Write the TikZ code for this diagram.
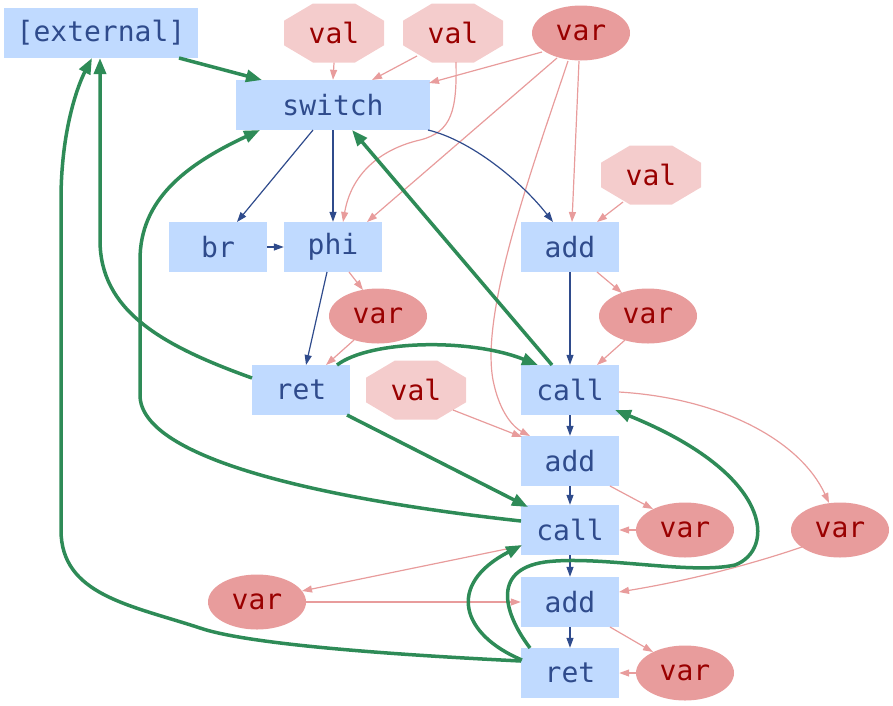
\documentclass[tikz,border=0pt]{standalone}
\usepackage{fontspec}
\setmonofont{DejaVu Sans Mono}
\usetikzlibrary{arrows.meta,shapes.geometric}
\definecolor{opfill}{HTML}{C0DAFF}
\definecolor{optext}{HTML}{2F4B8C}
\definecolor{valfill}{HTML}{F4CCCC}
\definecolor{varfill}{HTML}{E89C9C}
\definecolor{datatext}{HTML}{990000}
\definecolor{flowgreen}{HTML}{2E8B57}
\definecolor{flowblue}{HTML}{2F4B8C}
\definecolor{dataline}{HTML}{E89C9C}

\begin{document}
\begin{tikzpicture}[x=1pt,y=-1pt,
  every node/.style={font=\ttfamily\fontsize{28}{31}\selectfont, inner sep=0pt},
  op/.style={rectangle, fill=opfill, text=optext, minimum width=98pt, minimum height=50pt},
  wideop/.style={op, minimum width=194pt},
  varnode/.style={ellipse, fill=varfill, text=datatext, minimum width=98pt, minimum height=55pt},
  valnode/.style={rectangle, text=datatext, minimum width=100pt, minimum height=59pt,
    path picture={\fill[valfill]
      ([shift={(-50pt,12.3pt)}]path picture bounding box.center) --
      ([shift={(-21pt,29.5pt)}]path picture bounding box.center) --
      ([shift={(21pt,29.5pt)}]path picture bounding box.center) --
      ([shift={(50pt,12.3pt)}]path picture bounding box.center) --
      ([shift={(50pt,-12.3pt)}]path picture bounding box.center) --
      ([shift={(21pt,-29.5pt)}]path picture bounding box.center) --
      ([shift={(-21pt,-29.5pt)}]path picture bounding box.center) --
      ([shift={(-50pt,-12.3pt)}]path picture bounding box.center) -- cycle;}},
  ctrl/.style={draw=flowblue, line width=1.2pt, -{Triangle[length=10pt,width=7pt]}},
  data/.style={draw=dataline, line width=1.2pt, -{Triangle[length=10pt,width=7pt]}},
  dep/.style={draw=flowgreen, line width=3.5pt, -{Triangle[length=16pt,width=12pt]}},
]
\useasboundingbox (0,0) rectangle (893,705);

% instructions
\node[wideop] (ext) at (101,33) {[external]};
\node[wideop] (sw) at (333,105) {switch};
\node[op] (br) at (218,247) {br};
\node[op] (phi) at (333,247) {phi};
\node[op] (a1) at (570,247) {add};
\node[op] (r1) at (301,390) {ret};
\node[op] (c1) at (570,390) {call};
\node[op] (a2) at (570,461) {add};
\node[op] (c2) at (570,530) {call};
\node[op] (a3) at (570,602) {add};
\node[op] (r2) at (570,673) {ret};

% constants
\node[valnode] (v1) at (334,33) {val};
\node[valnode] (v2) at (453,33) {val};
\node[valnode] (v3) at (651,175) {val};
\node[valnode] (v4) at (416,390) {val};

% variables
\node[varnode] (vt) at (581,33) {var};
\node[varnode] (vp) at (378,316) {var};
\node[varnode] (va) at (648,316) {var};
\node[varnode] (vc) at (685,530) {var};
\node[varnode] (vr) at (840,530) {var};
\node[varnode] (vl) at (257,602) {var};
\node[varnode] (vb) at (685,673) {var};

% data edges
\draw[data] (v1.south) -- (sw.north);
\draw[data] ([shift={(-36,23)}]v2.center) -- ([shift={(39,-25)}]sw.center);
\draw[data] ([shift={(-39,19)}]vt.center) -- ([shift={(96,-22)}]sw.center);
\draw[data] ([shift={(3,29)}]v2.center) .. controls (457,110) and (452,132) .. (420,140)
  .. controls (385,148) and (352,170) .. ([shift={(10,-25)}]phi.center);
\draw[data] ([shift={(-24,25)}]vt.center) -- ([shift={(34,-25)}]phi.center);
\draw[data] ([shift={(-13,28)}]vt.center) .. controls (535,160) and (480,310) .. (493,380)
  .. controls (500,415) and (515,428) .. ([shift={(-40,-25)}]a2.center);
\draw[data] ([shift={(-2,28)}]vt.center) -- ([shift={(2,-25)}]a1.center);
\draw[data] ([shift={(-28,27)}]v3.center) -- ([shift={(27,-25)}]a1.center);
\draw[data] ([shift={(16,25)}]phi.center) -- ([shift={(-15,-26)}]vp.center);
\draw[data] ([shift={(-24,24)}]vp.center) -- ([shift={(25,-25)}]r1.center);
\draw[data] ([shift={(27,25)}]a1.center) -- ([shift={(-26,-23)}]va.center);
\draw[data] ([shift={(-23,24)}]va.center) -- ([shift={(27,-25)}]c1.center);
\draw[data] ([shift={(37,20)}]v4.center) -- ([shift={(-48,-24)}]a2.center);
\draw[data] ([shift={(49,2)}]c1.center) .. controls (720,398) and (800,440) .. ([shift={(-11,-27)}]vr.center);
\draw[data] ([shift={(40,25)}]a2.center) -- ([shift={(-32,-21)}]vc.center);
\draw[data] (vc.west) -- (c2.east);
\draw[data] ([shift={(-49,16)}]c2.center) -- ([shift={(45,-11)}]vl.center);
\draw[data] (vl.east) -- (a3.west);
\draw[data] ([shift={(-38,17)}]vr.center) .. controls (740,568) and (680,582) .. ([shift={(49,-10)}]a3.center);
\draw[data] ([shift={(40,25)}]a3.center) -- ([shift={(-32,-21)}]vb.center);
\draw[data] (vb.west) -- (r2.east);

% control flow edges
\draw[ctrl] ([shift={(-20,25)}]sw.center) -- ([shift={(19,-25)}]br.center);
\draw[ctrl] (sw.south) -- (phi.north);
\draw[ctrl] ([shift={(95,25)}]sw.center) .. controls (470,140) and (520,180) .. ([shift={(-17,-25)}]a1.center);
\draw[ctrl] (br.east) -- (phi.west);
\draw[ctrl] ([shift={(-6,25)}]phi.center) -- ([shift={(5,-25)}]r1.center);
\draw[ctrl] (a1.south) -- (c1.north);
\draw[ctrl] (c1.south) -- (a2.north);
\draw[ctrl] (a2.south) -- (c2.north);
\draw[ctrl] (c2.south) -- (a3.north);
\draw[ctrl] (a3.south) -- (r2.north);

% dependency edges
\draw[dep] ([shift={(78,25)}]ext.center) -- ([shift={(-71,-25)}]sw.center);
\draw[dep] ([shift={(-49,-12)}]r1.center) .. controls (160,345) and (100,310) .. (100,240)
  -- ([shift={(-1,25)}]ext.center);
\draw[dep] ([shift={(-49,-12)}]r2.center) .. controls (400,655) and (250,645) .. (200,628)
  .. controls (130,605) and (61,595) .. (61,530) -- (61,200)
  .. controls (61,130) and (78,85) .. ([shift={(-9,25)}]ext.center);
\draw[dep] ([shift={(-18,-25)}]c1.center) -- ([shift={(19,25)}]sw.center);
\draw[dep] ([shift={(-49,-9)}]c2.center) .. controls (330,500) and (140,460) .. (140,395)
  -- (140,260) .. controls (140,200) and (185,165) .. ([shift={(-73,25)}]sw.center);
\draw[dep] ([shift={(36,-25)}]r1.center) .. controls (370,340) and (470,338) .. ([shift={(-32,-25)}]c1.center);
\draw[dep] ([shift={(46,25)}]r1.center) -- ([shift={(-42,-23)}]c2.center);
\draw[dep] ([shift={(-40,-25)}]r2.center) .. controls (505,615) and (490,570) .. (545,562)
  .. controls (600,555) and (690,575) .. (735,565)
  .. controls (775,550) and (775,475) .. ([shift={(45,20)}]c1.center);
\draw[dep] ([shift={(-48,-13)}]r2.center) .. controls (462,635) and (445,585) .. ([shift={(-48,15)}]c2.center);
\end{tikzpicture}
\end{document}
